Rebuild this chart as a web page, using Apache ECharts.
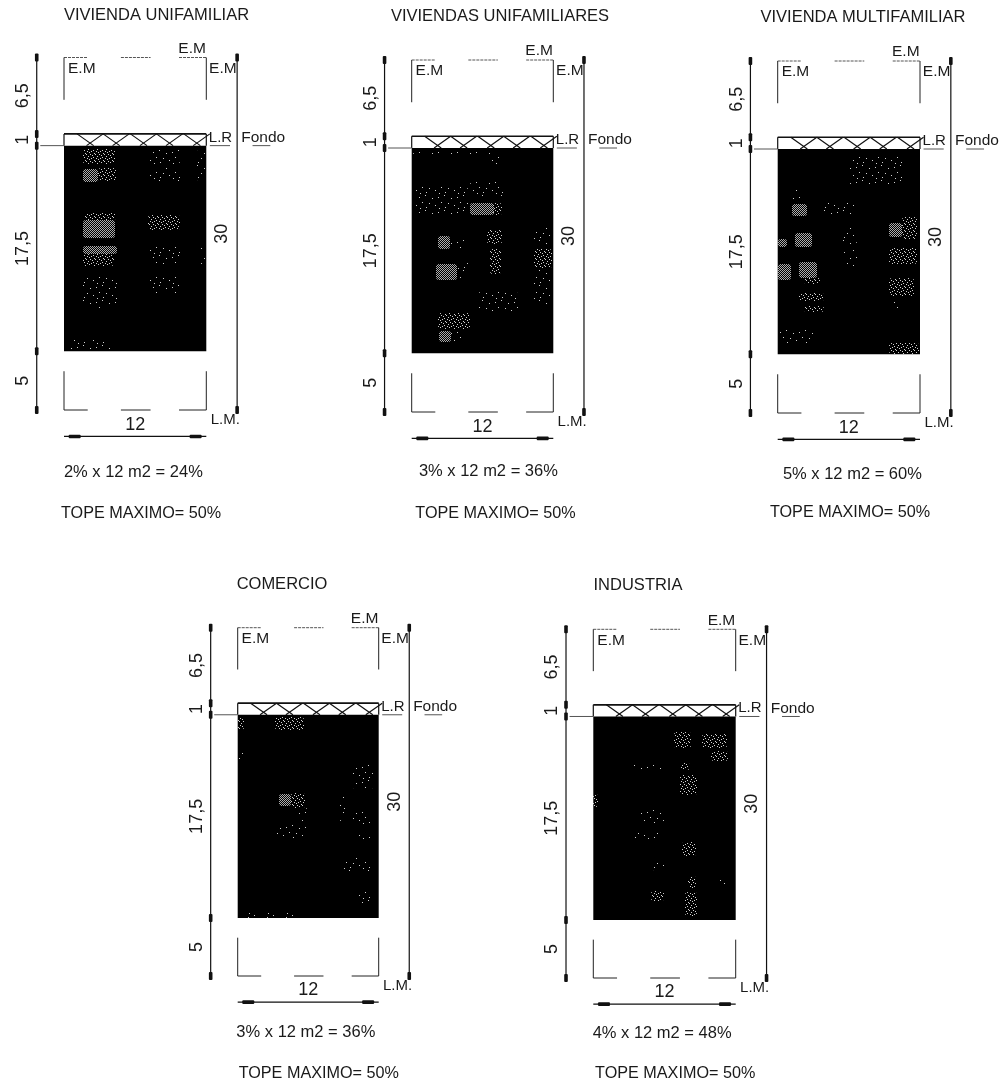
<!DOCTYPE html>
<html><head><meta charset="utf-8">
<style>html,body{margin:0;padding:0;background:#fff}#c{width:1005px;height:1090px}</style>
<script src="https://cdn.jsdelivr.net/npm/echarts@6/dist/echarts.min.js"></script>
</head><body><div id="c"></div>
<script>
// ---------- data (metres) ----------
const panelTitles = ['VIVIENDA UNIFAMILIAR','VIVIENDAS UNIFAMILIARES','VIVIENDA MULTIFAMILIAR','COMERCIO','INDUSTRIA'];
const costCaptions = ['2% x 12 m2 = 24%','3% x 12 m2 = 36%','5% x 12 m2 = 60%','3% x 12 m2 = 36%','4% x 12 m2 = 48%'];
const capCaption = 'TOPE MAXIMO= 50%';
const depthSteps = [6.5, 1, 17.5, 5];
const depthLabels = ['6,5', '1', '17,5', '5'];
const lotWidth = [12];
const totalDepth = [30];
const wallBreaks = [[0,2],[4.8,7.3],[9.7,12]];
const hatchCrossings = [2.2,4.4,6.7,8.9,11.2];
const backLineDashes = [[12.3,14],[15.9,17.4]];
const frontWallFrom = [26.7];
const backWallTo = [3.6];
// speckle patches: [x0, x1, y0, y1, density 0|1|2]
const speckles1 = [[1.6,4.3,7.8,9.1,1],[1.6,2.9,9.5,10.6,2],[2.9,4.45,9.4,10.5,1],[1.6,4.3,13.8,15.3,2],[1.8,4.45,13.2,13.8,1],[1.6,4.45,16,16.7,2],[1.6,4.2,16.7,17.7,1],[1.4,4.45,18.5,21.3,0],[7.1,9.8,7.8,9.1,0],[7.1,9.8,9.4,10.6,0],[7.1,9.8,13.4,14.7,1],[7.1,9.8,15.9,17.7,0],[7.1,9.7,18.7,20.1,0],[11.2,12,7.9,10.5,0],[11.4,12,16,17.5,0],[0.2,3.9,24,25,0]];
const speckles2 = [[4.9,7.8,10.4,11.6,0],[4.9,6.9,12.2,13.2,2],[6.9,7.7,12.2,13.2,1],[2.2,3.2,15,16.1,2],[3.2,4.7,15.3,16.1,0],[6.4,7.7,14.5,15.7,1],[6.6,7.5,16.1,18.2,1],[2.1,3.9,17.4,18.8,2],[3.9,4.9,17.3,18.6,0],[10.4,11.9,14.3,15.9,0],[10.4,11.9,16.1,17.7,1],[10.4,11.8,17.8,20.9,0],[2.2,4.9,21.6,23,1],[2.3,3.3,23.1,24,2],[3.3,4.6,23.1,24,0],[0.2,4.8,10.8,13.2,0],[5.6,9,19.8,21.5,0],[6.4,7.5,8,9.1,0],[0.1,7,7.8,8,0]];
const speckles3 = [[1.2,2.5,12.2,13.2,2],[1.2,1.9,10.6,12.2,0],[3.9,6.6,12.1,13.1,0],[9.4,10.5,13.8,15,2],[10.5,11.8,13.3,15.2,1],[0,0.8,15.2,15.9,2],[1.5,2.9,14.7,15.9,2],[1.8,3.3,17.1,18.5,2],[2.2,3.6,18.5,19,1],[0,1.1,17.3,18.7,2],[9.4,11.8,15.9,17.3,1],[5.4,6.7,14.2,15.6,0],[5.6,6.7,16.1,17.5,0],[9.4,11.5,18.5,20,1],[9.4,10.6,20.5,21.2,0],[1.8,3.9,19.8,20.5,1],[2.2,3.9,20.9,21.4,1],[0,3,22.9,24,0],[9.4,11.9,24,24.9,1],[5.9,10.6,8,10.5,0]];
const speckles4 = [[3.2,5.7,7.7,8.8,1],[0,0.5,7.7,8.8,1],[0,0.5,10.5,11.7,0],[3.5,4.5,14.3,15.3,2],[4.5,5.7,14.2,15.5,1],[5.2,6,15.5,16.7,0],[3.3,6,17,18.1,0],[9.8,11.5,11.8,13.9,0],[9.8,11.4,15.9,16.9,0],[9.8,11.4,17.8,18.3,0],[8.8,11.4,19.8,21,0],[10.2,11.4,22.8,23.8,0],[0.3,5.2,24.6,25,0],[8.7,9.1,14.5,16.7,0]];
const speckles5 = [[6.8,8.2,8.8,10.2,1],[9.2,11.3,9,10.2,1],[9.9,11.3,10.5,11.4,1],[3.3,5.9,11.6,12.3,0],[7.4,8.2,11.5,12.1,1],[7.3,8.7,12.5,14.2,1],[0,0.4,14.2,15.3,1],[3.9,5.9,15.5,16.7,0],[3.2,5.9,17.5,18.1,0],[7.5,8.7,18.3,19.5,1],[5,5.9,19.8,20.8,0],[8,8.7,21.2,22.2,1],[4.9,6,22.5,23.4,1],[7.7,8.7,22.6,24.7,1],[10.5,11.4,21.4,22.1,0]];
const panelSpeckles = [speckles1,speckles2,speckles3,speckles4,speckles5];

// ---------- layout (page pixels and label anchors) ----------
const frames = [
  {l:64,r:206.3,t:57.5,b:410,title:[156.5,7]},
  {l:411.7,r:553.3,t:60,b:412,title:[500,8]},
  {l:777.7,r:920,t:61,b:413,title:[863,9]},
  {l:237.7,r:378.7,t:627.7,b:976,title:[282,576]},
  {l:593.3,r:735.7,t:629.3,b:978,title:[638,577]}
];
const captionAnchors = [[5.85,35.3,6.5,38.85],[6.5,35.1,7.1,38.65],[6.3,35.2,6.1,38.5],[5.8,34.9,6.9,38.4],[5.8,34.8,6.9,38.2]];
const FONT = '"Liberation Sans", Arial, sans-serif';

function tile(w,h,px,color){
  const c=document.createElement('canvas');c.width=w;c.height=h;
  const g=c.getContext('2d');g.fillStyle=color;
  px.forEach(p=>g.fillRect(p[0],p[1],1,1));
  return c;
}
const tiles=[
  tile(19,15,[[1,2],[7,0],[14,3],[4,7],[11,8],[17,10],[8,12],[2,13]],'#d0d0d0'),
  tile(9,7,[[0,0],[2,1],[5,0],[7,2],[3,3],[1,4],[6,4],[4,6],[8,5]],'#d0d0d0'),
  tile(2,2,[[0,0],[1,1]],'#adadad')
];

const lineStyles={
  wall:{stroke:'#222',lineWidth:1},
  top:{stroke:'#555',lineWidth:1,lineDash:[3,1]},
  hatchTop:{stroke:'#111',lineWidth:1.6},
  hatch:{stroke:'#111',lineWidth:1.2},
  dim:{stroke:'#111',lineWidth:1.2},
  dash:{stroke:'#555',lineWidth:1}
};

const series=[];
frames.forEach((f,i)=>{
  let cum=[0]; depthSteps.forEach(d=>cum.push(cum[cum.length-1]+d));
  const W=lotWidth[0],D=totalDepth[0];
  const leftDim=-2.3,rightDim=14.6,bottomDim=32.25;
  const common={type:'custom',coordinateSystem:'cartesian2d',xAxisIndex:i,yAxisIndex:i,silent:true,clip:false};

  // black built area
  series.push({...common,name:'lot'+i,data:[[0,W,cum[2],cum[3]]],renderItem:(p,api)=>{
    const a=api.coord([api.value(0),api.value(2)]),b=api.coord([api.value(1),api.value(3)]);
    return {type:'rect',shape:{x:a[0],y:a[1],width:b[0]-a[0],height:b[1]-a[1]},style:{fill:'#000'}};
  }});
  // speckle
  series.push({...common,name:'speckle'+i,z:3,data:panelSpeckles[i],renderItem:(p,api)=>{
    const a=api.coord([api.value(0),api.value(2)]),b=api.coord([api.value(1),api.value(3)]);
    return {type:'rect',shape:{x:Math.round(a[0]),y:Math.round(a[1]),width:Math.round(b[0]-a[0]),height:Math.round(b[1]-a[1]),r:3},
      style:{fill:{image:tiles[api.value(4)],repeat:'repeat'}}};
  }});
  // line work
  const segs=[];
  const add=(x1,y1,x2,y2,k)=>segs.push({value:[x1,y1,x2,y2],kind:k});
  wallBreaks.forEach(w=>{add(w[0],0,w[1],0,'top');add(w[0],D,w[1],D,'wall');});
  add(0,0,0,backWallTo[0],'wall');add(W,0,W,backWallTo[0],'wall');
  add(0,frontWallFrom[0],0,D,'wall');add(W,frontWallFrom[0],W,D,'wall');
  add(0,cum[1],W,cum[1],'hatchTop');add(0,cum[1],0,cum[2],'hatch');add(W,cum[1],W,cum[2],'hatch');
  hatchCrossings.forEach(c=>{add(c-1.1,cum[1],c+0.3,cum[2],'hatch');add(c+1.1,cum[1],c-0.3,cum[2],'hatch');});
  add(leftDim,0,leftDim,D,'dim');add(rightDim,0,rightDim,D,'dim');add(0,bottomDim,W,bottomDim,'dim');
  add(-2,cum[2],0,cum[2],'dash');
  backLineDashes.forEach(b=>add(b[0],cum[2],b[1],cum[2],'dash'));
  series.push({...common,name:'lines'+i,z:4,data:segs,renderItem:(p,api)=>{
    const a=api.coord([api.value(0),api.value(1)]),b=api.coord([api.value(2),api.value(3)]);
    return {type:'line',shape:{x1:a[0],y1:a[1],x2:b[0],y2:b[1]},style:lineStyles[segs[p.dataIndex].kind]};
  }});
  // dimension arrowheads
  const heads=[];
  cum.forEach(y=>heads.push({value:[leftDim,y],v:true}));
  heads.push({value:[rightDim,0],v:true},{value:[rightDim,D],v:true},{value:[0.9,bottomDim],v:false},{value:[W-0.9,bottomDim],v:false});
  series.push({...common,name:'heads'+i,z:5,data:heads,renderItem:(p,api)=>{
    const c=api.coord([api.value(0),api.value(1)]),v=heads[p.dataIndex].v;
    const s=v?[1.8,4]:[6,1.8];
    return {type:'rect',shape:{x:c[0]-s[0],y:c[1]-s[1],width:s[0]*2,height:s[1]*2,r:1},style:{fill:'#111'}};
  }});
  // texts
  const txt=[];
  const T=(x,y,text,size,rot)=>txt.push({value:[x,y],text,size,rot:rot||0});
  depthSteps.forEach((d,k)=>T(-3.45,(cum[k]+cum[k+1])/2,depthLabels[k],18,90));
  T(13.35,D/2,String(D),18,90);
  T(W/2,31.25,String(W),18);
  T(10.8,-0.75,'E.M',15.5);T(1.5,0.95,'E.M',15.5);T(13.4,0.95,'E.M',15.5);
  T(13.2,6.8,'L.R',15);T(16.8,6.8,'Fondo',15.5);T(13.6,30.85,'L.M.',15);
  const ca=captionAnchors[i];
  T(ca[0],ca[1],costCaptions[i],16.5);T(ca[2],ca[3],capCaption,16.2);
  series.push({...common,name:'text'+i,z:6,data:txt,renderItem:(p,api)=>{
    const c=api.coord([api.value(0),api.value(1)]),t=txt[p.dataIndex];
    return {type:'text',x:c[0],y:c[1],rotation:t.rot*Math.PI/180,
      style:{text:t.text,fill:'#1a1a1a',font:t.size+'px '+FONT,textAlign:'center',textVerticalAlign:'middle'}};
  }});
});

const chart=echarts.init(document.getElementById('c'),null,{renderer:'canvas'});
chart.setOption({
  animation:false,
  backgroundColor:'#fff',
  title:frames.map((f,i)=>({text:panelTitles[i],left:f.title[0],top:f.title[1],textAlign:'center',padding:0,
    textStyle:{fontFamily:FONT,fontWeight:'normal',fontSize:16.5,color:'#1a1a1a'}})),
  grid:frames.map(f=>({left:f.l,width:f.r-f.l,top:f.t,height:f.b-f.t,containLabel:false})),
  xAxis:frames.map((f,i)=>({type:'value',gridIndex:i,min:0,max:lotWidth[0],show:false})),
  yAxis:frames.map((f,i)=>({type:'value',gridIndex:i,min:0,max:totalDepth[0],inverse:true,show:false})),
  series
});
</script></body></html>
